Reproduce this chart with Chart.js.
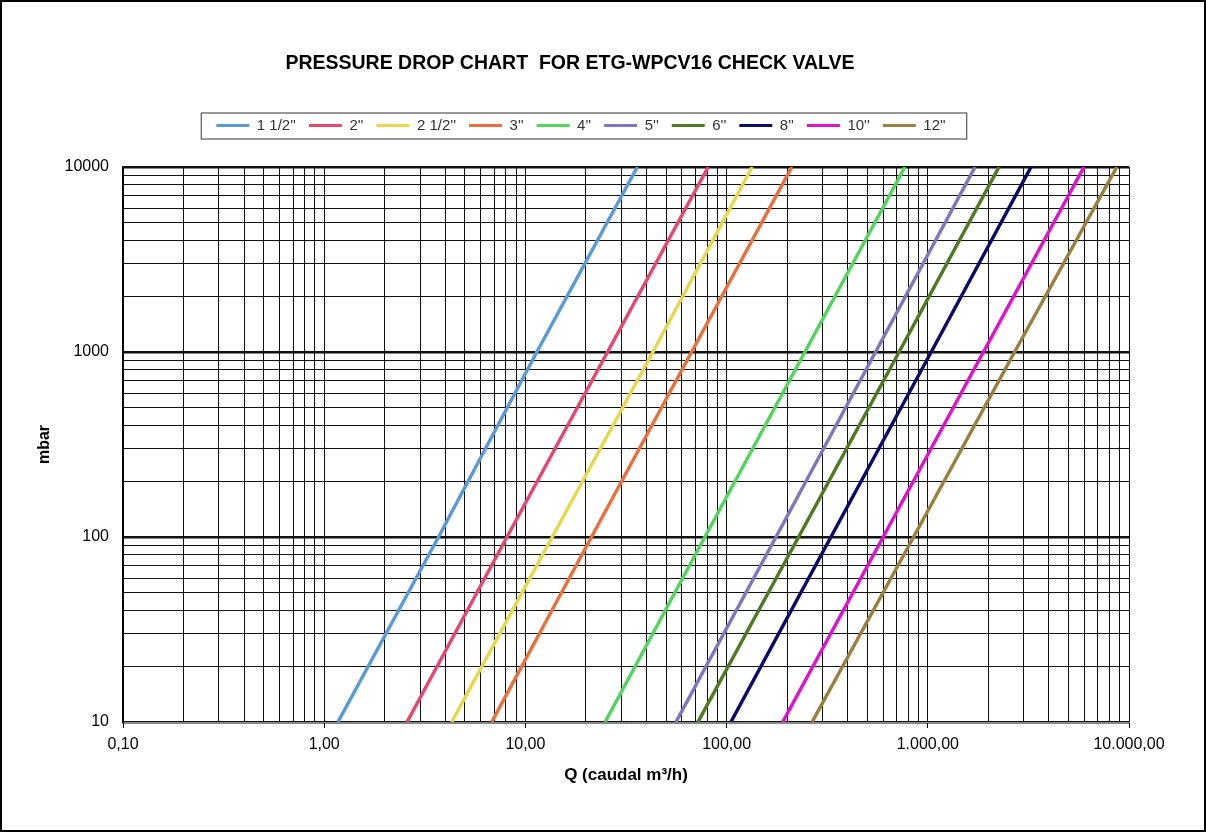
<!DOCTYPE html>
<html>
<head>
<meta charset="utf-8">
<script src="https://cdn.jsdelivr.net/npm/chart.js@4/dist/chart.umd.min.js"></script>
<style>
	body { margin: 0; background: #fff; }
	#wrap { width: 1206px; height: 832px; }
</style>
</head>
<body>
<div id="wrap"><canvas id="myChart"></canvas></div>
<script>
/* data */
const chartTitle = 'PRESSURE DROP CHART  FOR ETG-WPCV16 CHECK VALVE';
const sizes = ["1 1/2''", "2''", "2 1/2''", "3''", "4''", "5''", "6''", "8''", "10''", "12''"];
const colors = ['#5B9BD5', '#E4476F', '#E6D84A', '#E8703C', '#52D45E', '#7F76BD', '#4E7A21', '#0B0B6C', '#DC14CE', '#9B7F3E'];
// pressure levels (mbar) where the flow was read
const pressures = [10, 100, 1000, 10000];
// flow Q (m3/h) of each valve size at those pressures
const q15 = [1.17, 3.7, 11.4, 36];
const q20 = [2.58, 8.1, 25.6, 81];
const q25 = [4.3, 13.6, 43, 134];
const q30 = [6.8, 21.3, 67, 211];
const q40 = [24.9, 78, 245, 770];
const q50 = [56, 176, 550, 1717];
const q60 = [72, 228, 720, 2260];
const q80 = [105, 330, 1040, 3260];
const q100 = [190, 600, 1890, 5975];
const q120 = [266, 850, 2700, 8700];
const flows = [q15, q20, q25, q30, q40, q50, q60, q80, q100, q120];

const xTickValues = [];
for (let e = -1; e <= 3; e++) {
	for (let m = 1; m <= 9; m++) xTickValues.push(Number((m * Math.pow(10, e)).toPrecision(3)));
}
xTickValues.push(10000);
const yTickValues = [];
for (let e = 1; e <= 3; e++) {
	for (let m = 1; m <= 9; m++) yTickValues.push(m * Math.pow(10, e));
}
yTickValues.push(10000);

const FONT = '"Liberation Sans", Arial, sans-serif';

function isDecade(v) {
	const l = Math.log10(v);
	return Math.abs(l - Math.round(l)) < 1e-9;
}

// 1.000,00 style
function fmtQ(v) {
	let parts = v.toFixed(2).split('.');
	parts[0] = parts[0].replace(/\B(?=(\d{3})+(?!\d))/g, '.');
	return parts[0] + ',' + parts[1];
}

const datasets = sizes.map((s, i) => ({
	label: s,
	data: pressures.map((p, j) => ({ x: flows[i][j], y: p })),
	borderColor: colors[i],
	backgroundColor: colors[i],
	borderWidth: 3.5,
	pointRadius: 0,
	tension: 0
}));

const frame = {
	id: 'frame',
	beforeDraw(chart) {
		const c = chart.ctx;
		c.save();
		c.fillStyle = '#fff';
		c.fillRect(0, 0, chart.width, chart.height);
		c.restore();
	},
	afterDraw(chart) {
		const c = chart.ctx;
		c.save();
		c.strokeStyle = '#000';
		c.lineWidth = 2;
		c.strokeRect(1, 1, chart.width - 2, chart.height - 2);
		// title
		c.fillStyle = '#000';
		c.font = 'bold 19.5px ' + FONT;
		c.textAlign = 'center';
		c.textBaseline = 'middle';
		c.fillText(chartTitle, 570, 64);
		// legend border
		const hb = chart.legend.legendHitBoxes;
		if (hb && hb.length) {
			const l = Math.min(...hb.map(h => h.left)) - 15;
			const r = Math.max(...hb.map(h => h.left + h.width)) + 21;
			const t = hb[0].top - 5;
			const b = hb[0].top + hb[0].height + 6;
			c.strokeStyle = '#555';
			c.lineWidth = 1.2;
			c.strokeRect(l, t, r - l, b - t);
		}
		c.restore();
	}
};

new Chart(document.getElementById('myChart'), {
	type: 'line',
	data: { datasets },
	plugins: [frame],
	options: {
		responsive: true,
		maintainAspectRatio: false,
		animation: false,
		layout: { padding: { left: 33, right: 77, top: 105, bottom: 40 } },
		plugins: {
			title: { display: false },
			tooltip: { enabled: false },
			legend: {
				position: 'top',
				labels: {
					boxWidth: 33,
					boxHeight: 3,
					padding: 13,
					color: '#333',
					font: { family: FONT, size: 15 },
					generateLabels(chart) {
						return Chart.defaults.plugins.legend.labels.generateLabels(chart).map(l => ({ ...l, fillStyle: l.strokeStyle, lineWidth: 0 }));
					}
				}
			}
		},
		scales: {
			x: {
				type: 'logarithmic',
				min: 0.1,
				max: 10000,
				afterBuildTicks(s) { s.ticks = xTickValues.map(v => ({ value: v })); },
				afterFit(s) { s.height = 70; },
				grid: {
					color: '#111',
					lineWidth: 1,
					tickLength: 6,
					tickColor: ctx => isDecade(ctx.tick.value) ? '#000' : 'rgba(0,0,0,0)'
				},
				border: { color: '#888', width: 1 },
				ticks: {
					autoSkip: false,
					maxRotation: 0,
					padding: 7,
					color: '#000',
					font: { family: FONT, size: 16 },
					callback: v => isDecade(v) ? fmtQ(v) : ''
				},
				title: {
					display: true,
					text: 'Q (caudal m³/h)',
					color: '#000',
					padding: { top: 4, bottom: 6 },
					font: { family: FONT, size: 17, weight: 'bold' }
				}
			},
			y: {
				type: 'logarithmic',
				min: 10,
				max: 10000,
				afterBuildTicks(s) { s.ticks = yTickValues.map(v => ({ value: v })); },
				afterFit(s) { s.width = 90; },
				grid: {
					color: '#111',
					lineWidth: ctx => isDecade(ctx.tick.value) ? 2.5 : 1,
					tickLength: 6,
					tickColor: 'rgba(0,0,0,0)'
				},
				border: { color: '#000', width: 1.5 },
				ticks: {
					autoSkip: false,
					padding: 8,
					color: '#000',
					font: { family: FONT, size: 16 },
					callback: v => isDecade(v) ? String(v) : ''
				},
				title: {
					display: true,
					text: 'mbar',
					color: '#000',
					padding: { top: 2, bottom: 2 },
					font: { family: FONT, size: 16, weight: 'bold' }
				}
			},
			gap: {
				type: 'linear',
				position: 'top',
				display: true,
				grid: { display: false, drawTicks: false },
				ticks: { display: false },
				border: { display: false },
				afterFit(s) { s.height = 24; }
			}
		}
	}
});
</script>
</body>
</html>
